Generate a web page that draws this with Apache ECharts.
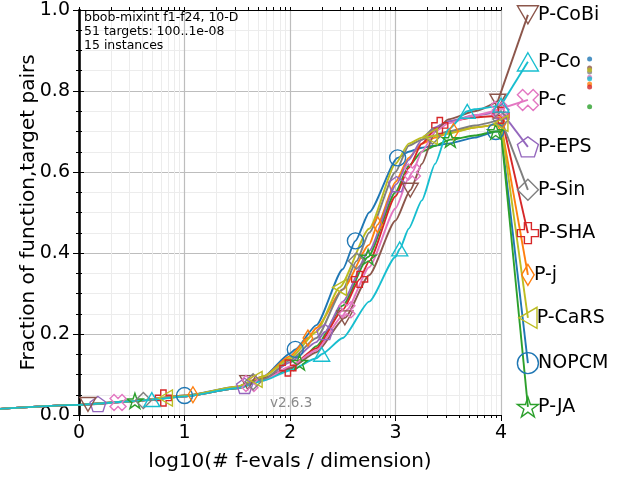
<!DOCTYPE html>
<html>
<head>
<meta charset="utf-8">
<script src="https://cdn.jsdelivr.net/npm/echarts@6.0.0/dist/echarts.min.js"></script>
<style>
  html, body { margin: 0; padding: 0; background: #fff; }
  #main { width: 640px; height: 480px; }
</style>
</head>
<body>
<div id="main"></div>
<script>
// log10(# f-evals / dimension) where the curves are sampled
const evalsGrid = [-0.75, 0, 0.5, 1, 1.5, 1.75, 2, 2.25, 2.5, 2.75, 3, 3.125, 3.25, 3.375, 3.5, 3.75, 4];

// fraction of (function,target) pairs, one value per evalsGrid entry
const yNOPCM = [0.015, 0.025, 0.034, 0.048, 0.070, 0.095, 0.152, 0.222, 0.360, 0.500, 0.625, 0.650, 0.660, 0.665, 0.670, 0.685, 0.700];
const yPj    = [0.015, 0.025, 0.034, 0.048, 0.070, 0.095, 0.145, 0.215, 0.310, 0.420, 0.575, 0.635, 0.670, 0.685, 0.695, 0.710, 0.720];
const yPJA   = [0.015, 0.025, 0.034, 0.046, 0.066, 0.088, 0.112, 0.170, 0.270, 0.395, 0.550, 0.615, 0.650, 0.665, 0.678, 0.690, 0.700];
const yPSHA  = [0.015, 0.025, 0.034, 0.046, 0.066, 0.088, 0.118, 0.165, 0.260, 0.380, 0.540, 0.610, 0.670, 0.705, 0.725, 0.735, 0.740];
const yPEPS  = [0.015, 0.025, 0.034, 0.046, 0.067, 0.088, 0.130, 0.180, 0.280, 0.405, 0.565, 0.630, 0.680, 0.710, 0.725, 0.740, 0.750];
const yPCoBi = [0.015, 0.025, 0.034, 0.046, 0.068, 0.092, 0.115, 0.155, 0.230, 0.345, 0.480, 0.550, 0.620, 0.700, 0.730, 0.750, 0.780];
const yPc    = [0.015, 0.025, 0.034, 0.046, 0.068, 0.085, 0.120, 0.160, 0.245, 0.365, 0.510, 0.585, 0.650, 0.700, 0.720, 0.740, 0.755];
const yPSin  = [0.015, 0.025, 0.034, 0.047, 0.068, 0.088, 0.135, 0.190, 0.310, 0.450, 0.600, 0.665, 0.680, 0.690, 0.700, 0.715, 0.730];
const yPCaRS = [0.015, 0.025, 0.034, 0.047, 0.070, 0.095, 0.140, 0.205, 0.330, 0.460, 0.620, 0.670, 0.685, 0.690, 0.695, 0.710, 0.720];
const yPCo   = [0.015, 0.025, 0.034, 0.046, 0.066, 0.085, 0.110, 0.140, 0.190, 0.280, 0.390, 0.460, 0.530, 0.620, 0.705, 0.755, 0.765];

// marker positions on each curve (x, y)
const mxNOPCM = [1.00, 2.05, 2.62, 3.02, 3.95], myNOPCM = [0.048, 0.162, 0.430, 0.635, 0.700];
const mxPj    = [1.08, 2.17, 2.83, 3.55, 4.00], myPj    = [0.050, 0.190, 0.470, 0.700, 0.720];
const mxPJA   = [0.53, 2.09, 2.74, 3.52, 3.95], myPJA   = [0.035, 0.130, 0.390, 0.680, 0.700];
const mxPSHA  = [0.80, 1.98, 2.66, 3.42, 4.00], myPSHA  = [0.042, 0.116, 0.335, 0.715, 0.740];
const mxPEPS  = [0.18, 1.57, 2.33, 3.01, 4.00], myPEPS  = [0.027, 0.072, 0.205, 0.570, 0.750];
const mxPCoBi = [0.085, 1.60, 2.52, 3.14, 3.97], myPCoBi = [0.026, 0.080, 0.240, 0.555, 0.775];
const mxPc    = [0.37, 1.62, 2.54, 3.16, 3.98], myPc    = [0.031, 0.078, 0.260, 0.600, 0.755];
const mxPSin  = [0.61, 1.65, 2.63, 3.35, 4.00], myPSin  = [0.036, 0.082, 0.380, 0.688, 0.730];
const mxPCaRS = [0.82, 1.67, 2.47, 3.33, 4.00], myPCaRS = [0.042, 0.088, 0.315, 0.688, 0.720];
const mxPCo   = [0.69, 2.30, 3.04, 3.68, 4.00], myPCo   = [0.038, 0.150, 0.410, 0.750, 0.765];

const algNames  = ['NOPCM', 'P-j', 'P-JA', 'P-SHA', 'P-EPS', 'P-CoBi', 'P-c', 'P-Sin', 'P-CaRS', 'P-Co'];
const algColors = ['#1f77b4', '#ff7f0e', '#2ca02c', '#d62728', '#9467bd', '#8c564b', '#e377c2', '#7f7f7f', '#bcbd22', '#17becf'];
const algMarkers = ['circle', 'thinDiamond', 'star', 'plus', 'pentagon', 'triDown', 'cross', 'diamond', 'triLeft', 'triUp'];
const curveY = [yNOPCM, yPj, yPJA, yPSHA, yPEPS, yPCoBi, yPc, yPSin, yPCaRS, yPCo];
const markX = [mxNOPCM, mxPj, mxPJA, mxPSHA, mxPEPS, mxPCoBi, mxPc, mxPSin, mxPCaRS, mxPCo];
const markY = [myNOPCM, myPj, myPJA, myPSHA, myPEPS, myPCoBi, myPc, myPSin, myPCaRS, myPCo];

// labelled end points right of the plot
const legendX = 4.255;
const legendY = [0.128, 0.346, 0.020, 0.449, 0.662, 0.988, 0.778, 0.556, 0.240, 0.872];
// small coloured dots further right
const dotX = 4.84;
const dotY = [0.879, 0.817, 0.761, 0.810, null, 0.857, 0.834, 0.847, 0.852, 0.830];

const xTicks = [0, 1, 2, 3, 4];
const yTicks = [0, 0.2, 0.4, 0.6, 0.8, 1.0];
const minorSteps = [2, 3, 4, 5, 6, 7, 8, 9];

const infoLines = ['bbob-mixint f1-f24, 10-D', '51 targets: 100..1e-08', '15 instances'];
const versionText = 'v2.6.3';

const symbolPaths = {
  circle: 'circle',
  triDown: 'path://M0,0L2,0L1,1.732Z',
  triUp: 'path://M1,0L2,1.732L0,1.732Z',
  triLeft: 'path://M0,1L1.732,0L1.732,2Z',
  diamond: 'path://M1,0L2,1L1,2L0,1Z',
  thinDiamond: 'path://M0.6,0L1.2,1L0.6,2L0,1Z',
  plus: 'path://M1,0H2V1H3V2H2V3H1V2H0V1H1Z',
  cross: 'path://M2.121,0L2.828,0.707L2.121,1.414L2.828,2.121L2.121,2.828L1.414,2.121L0.707,2.828L0,2.121L0.707,1.414L0,0.707L0.707,0L1.414,0.707Z',
  pentagon: 'path://M1,0L1.951,0.691L1.588,1.809L0.412,1.809L0.049,0.691Z',
  star: 'path://M1,0L1.224,0.692L1.951,0.691L1.362,1.118L1.588,1.809L1,1.381L0.412,1.809L0.638,1.118L0.049,0.691L0.776,0.692Z'
};

const FONT = '"DejaVu Sans", sans-serif';

// plot box in pixels; the curves live on a full-width grid with the same scale
const W = 640, PLOT_L = 79, PLOT_R = 139, PLOT_T = 10, PLOT_B = 65;
const pxPerUnit = (W - PLOT_L - PLOT_R) / (xTicks[xTicks.length - 1] - xTicks[0]);
const wideMin = xTicks[0] - PLOT_L / pxPerUnit;
const wideMax = xTicks[xTicks.length - 1] + PLOT_R / pxPerUnit;

// log-scale minor positions inside each decade
const minorLogX = [];
xTicks.slice(0, -1).forEach(d => minorSteps.forEach(m => minorLogX.push(d + Math.log10(m))));

function buildCurve(k) {
  const pts = [];
  evalsGrid.forEach((x, i) => {
    if (!markX[k].some(m => Math.abs(m - x) < 0.03)) {
      pts.push({ value: [x, curveY[k][i]], symbol: 'none' });
    }
  });
  markX[k].forEach((x, i) => pts.push({ value: [x, markY[k][i]] }));
  pts.sort((a, b) => a.value[0] - b.value[0]);
  return pts;
}

const series = [];
algNames.forEach((name, k) => {
  const curve = buildCurve(k);
  const last = curve[curve.length - 1].value;
  const common = {
    type: 'line',
    xAxisIndex: 3,
    yAxisIndex: 3,
    symbol: symbolPaths[algMarkers[k]],
    symbolKeepAspect: true,
    showSymbol: true,
    lineStyle: { color: algColors[k], width: 1.9 },
    itemStyle: { color: 'rgba(0,0,0,0)', borderColor: algColors[k], borderWidth: 1.4 },
    emphasis: { disabled: true },
    z: 3
  };
  // ECDF curve
  series.push(Object.assign({}, common, {
    name: name,
    data: curve,
    smooth: 0.2,
    smoothMonotone: 'x',
    symbolSize: 16
  }));
  // straight link from the curve end to its label
  series.push(Object.assign({}, common, {
    name: name + ' label',
    symbolSize: 21,
    data: [
      { value: last, symbol: 'none' },
      {
        value: [legendX, legendY[k]],
        label: {
          show: true, position: 'right', distance: -1,
          formatter: name, color: '#000', fontSize: 19, fontFamily: FONT
        }
      }
    ]
  }));
});

series.push({
  type: 'scatter',
  xAxisIndex: 3,
  yAxisIndex: 3,
  symbolSize: 5,
  data: dotY.map((v, k) => v == null ? null : { value: [dotX, v], itemStyle: { color: algColors[k] } }).filter(d => d),
  z: 4
});

const gridBox = { left: PLOT_L, right: PLOT_R, top: PLOT_T, bottom: PLOT_B, containLabel: false, outerBoundsMode: 'none' };
const wideBox = { left: 0, right: 0, top: PLOT_T, bottom: PLOT_B, containLabel: false, outerBoundsMode: 'none' };
const majorGrid = '#bdbdbd';
const minorGrid = '#ececec';

const option = {
  animation: false,
  backgroundColor: '#fff',
  grid: [Object.assign({}, gridBox), Object.assign({}, gridBox), wideBox],
  xAxis: [
    {
      gridIndex: 0, type: 'value', position: 'bottom', min: 0, max: 4, interval: 1,
      name: 'log10(# f-evals / dimension)', nameLocation: 'middle', nameGap: 37,
      nameMoveOverlap: false,
      nameTextStyle: { fontSize: 20, color: '#000', fontFamily: FONT },
      axisLine: { show: true, onZero: false, lineStyle: { color: '#000', width: 1 } },
      axisTick: { show: true, length: 6, lineStyle: { color: '#000', width: 1 } },
      axisLabel: { fontSize: 19, color: '#000', fontFamily: FONT, margin: 9 },
      splitLine: { show: true, lineStyle: { color: majorGrid, width: 1.2 } }
    },
    {
      gridIndex: 0, type: 'value', position: 'top', min: 0, max: 4,
      axisLine: { show: true, onZero: false, lineStyle: { color: '#000', width: 1 } },
      axisTick: { show: true, length: 3, customValues: xTicks.concat(minorLogX), lineStyle: { color: '#000' } },
      axisLabel: { show: false },
      splitLine: { show: false }
    },
    {
      gridIndex: 1, type: 'value', position: 'bottom', min: 0, max: 4,
      axisLine: { show: false, onZero: false },
      axisTick: { show: true, length: 3, customValues: minorLogX, lineStyle: { color: '#000' } },
      axisLabel: { show: false },
      splitLine: { show: true, lineStyle: { color: minorGrid, width: 1 } }
    },
    {
      gridIndex: 2, type: 'value', min: wideMin, max: wideMax, show: false
    }
  ],
  yAxis: [
    {
      gridIndex: 0, type: 'value', position: 'left', min: 0, max: 1, interval: 0.2,
      name: 'Fraction of function,target pairs', nameLocation: 'middle', nameGap: 40,
      nameMoveOverlap: false,
      nameTextStyle: { fontSize: 20, color: '#000', fontFamily: FONT },
      axisLine: { show: false },
      axisTick: { show: true, length: 6, lineStyle: { color: '#000' } },
      minorTick: { show: true, splitNumber: 4, length: 3, lineStyle: { color: '#000' } },
      axisLabel: {
        fontSize: 19, color: '#000', fontFamily: FONT, margin: 9,
        formatter: v => yTicks.some(t => Math.abs(t - v) < 1e-9) ? v.toFixed(1) : ''
      },
      splitLine: { show: true, lineStyle: { color: majorGrid, width: 1.2 } },
      minorSplitLine: { show: true, lineStyle: { color: minorGrid, width: 1 } }
    },
    {
      gridIndex: 0, type: 'value', position: 'right', min: 0, max: 1, interval: 0.2,
      axisLine: { show: true, lineStyle: { color: '#000', width: 2.6 } },
      axisTick: { show: true, length: 5, lineStyle: { color: '#000' } },
      minorTick: { show: true, splitNumber: 4, length: 3, lineStyle: { color: '#000' } },
      axisLabel: { show: false },
      splitLine: { show: false }
    },
    {
      gridIndex: 1, type: 'value', min: 0, max: 1, show: false
    },
    {
      gridIndex: 2, type: 'value', min: 0, max: 1, show: false
    }
  ],
  graphic: [
    {
      type: 'text', left: 84, top: 11, z: 10,
      style: { text: infoLines.join('\n'), font: '12.5px ' + FONT, lineHeight: 14, fill: '#000' }
    },
    {
      type: 'text', left: 270, top: 396, z: 10,
      style: { text: versionText, font: '13.5px ' + FONT, fill: '#8a8a8a' }
    }
  ],
  series: series
};

const chart = echarts.init(document.getElementById('main'));
chart.setOption(option);
</script>
</body>
</html>
